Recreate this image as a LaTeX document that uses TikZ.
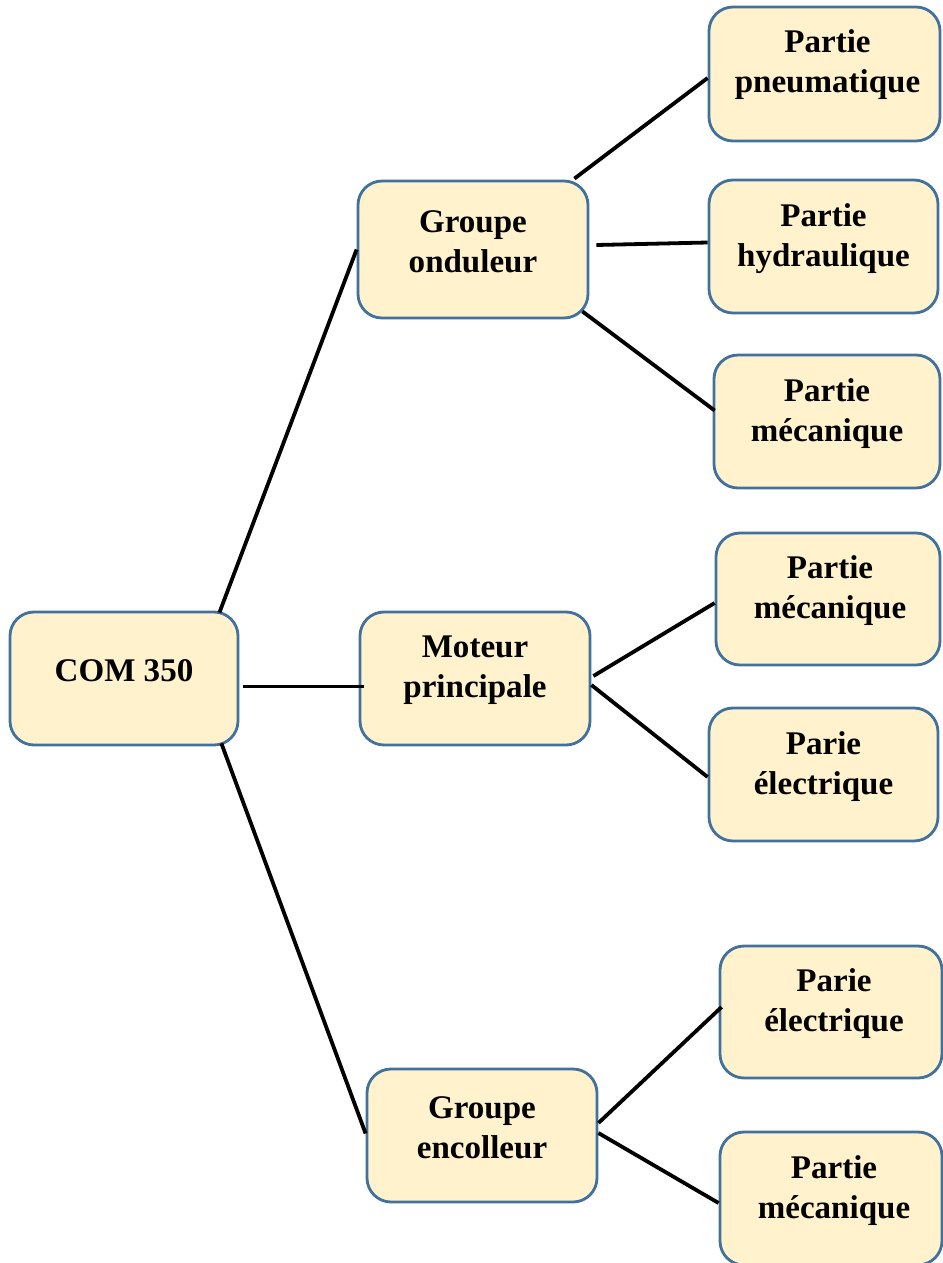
\documentclass[tikz,border=0pt]{standalone}
\usepackage{fontspec}
\setmainfont{Liberation Serif}
\usetikzlibrary{calc}
\definecolor{fond}{HTML}{FFF2CC}
\definecolor{bord}{HTML}{41719C}
\def\unite{0.025cm}
\begin{document}
\begin{tikzpicture}[x=0.025cm, y=-0.025cm,
  boite/.style = {draw=bord, fill=fond, line width=2pt, rounded corners=0.6cm, inner sep=0pt,
                  minimum width=230*\unite, minimum height=133*\unite},
  texte/.style = {align=center, font=\bfseries\fontsize{23.5}{28.5}\selectfont},
  lien/.style = {line width=2.7pt}]
  \useasboundingbox (0,0) rectangle (942,1263);

  % boites
  \node[boite, minimum width=228*\unite] (com) at (124,678.5) {};
  \node[boite, minimum height=137*\unite] (ond) at (473,249.5) {};
  \node[boite] (mot) at (475,678.5) {};
  \node[boite] (enc) at (482,1135.5) {};
  \node[boite, minimum width=231*\unite, minimum height=134*\unite] (pneu) at (824.5,74) {};
  \node[boite, minimum width=229*\unite] (hyd) at (823.5,246.5) {};
  \node[boite, minimum width=226*\unite] (meca1) at (827,421.5) {};
  \node[boite, minimum width=224*\unite, minimum height=132*\unite] (meca2) at (828,599) {};
  \node[boite, minimum width=229*\unite] (elec1) at (823.5,774.5) {};
  \node[boite, minimum width=222*\unite, minimum height=132*\unite] (elec2) at (831,1012) {};
  \node[boite, minimum width=222*\unite] (meca3) at (831,1198.5) {};

  % textes
  \node[texte] (comT) at ($(com.center)+(0,-8)$) {COM 350};
  \node[texte] (ondT) at ($(ond.center)+(0,-8)$) {Groupe\\onduleur};
  \node[texte] (motT) at ($(mot.center)+(0,-8)$) {Moteur\\principale};
  \node[texte] (encT) at ($(enc.center)+(0,-8)$) {Groupe\\encolleur};
  \node[texte] (pneuT) at ($(pneu.center)+(3,-9)$) {Partie\\pneumatique};
  \node[texte] (hydT) at ($(hyd.center)+(0,-8)$) {Partie\\hydraulique};
  \node[texte] (meca1T) at ($(meca1.center)+(0,-8)$) {Partie\\mécanique};
  \node[texte] (meca2T) at ($(meca2.center)+(2,-8)$) {Partie\\mécanique};
  \node[texte] (elec1T) at ($(elec1.center)+(0,-8)$) {Parie\\électrique};
  \node[texte] (elec2T) at ($(elec2.center)+(3,-8)$) {Parie\\électrique};
  \node[texte] (meca3T) at ($(meca3.center)+(3,-8)$) {Partie\\mécanique};

  % liens niveau 1
  \draw[lien] ($(com.north east)+(-20,2)$) -- (ond.west);
  \draw[lien] ($(com.east)+(4,8)$) -- ($(mot.west)+(5,8)$);
  \draw[lien] ($(com.south east)+(-18,-3)$) -- ($(enc.west)+(0,-2)$);

  % liens niveau 2
  \draw[lien] ($(ond.north east)+(-15,-1)$) -- ($(pneu.west)+(0,4)$);
  \draw[lien] ($(ond.east)+(7,-4.5)$) -- ($(hyd.west)+(0,-4)$);
  \draw[lien] ($(ond.south east)+(-7,-8)$) -- ($(meca1.west)+(2,-11)$);
  \draw[lien] ($(mot.east)+(2,-2.5)$) -- ($(meca2.west)+(0,4)$);
  \draw[lien] ($(mot.east)+(0,6.5)$) -- ($(elec1.west)+(0,2.5)$);
  \draw[lien] ($(enc.east)+(0,-12.5)$) -- ($(elec2.west)+(3,-5)$);
  \draw[lien] ($(enc.east)+(0,-2.5)$) -- ($(meca3.west)+(0,4.5)$);
\end{tikzpicture}
\end{document}
